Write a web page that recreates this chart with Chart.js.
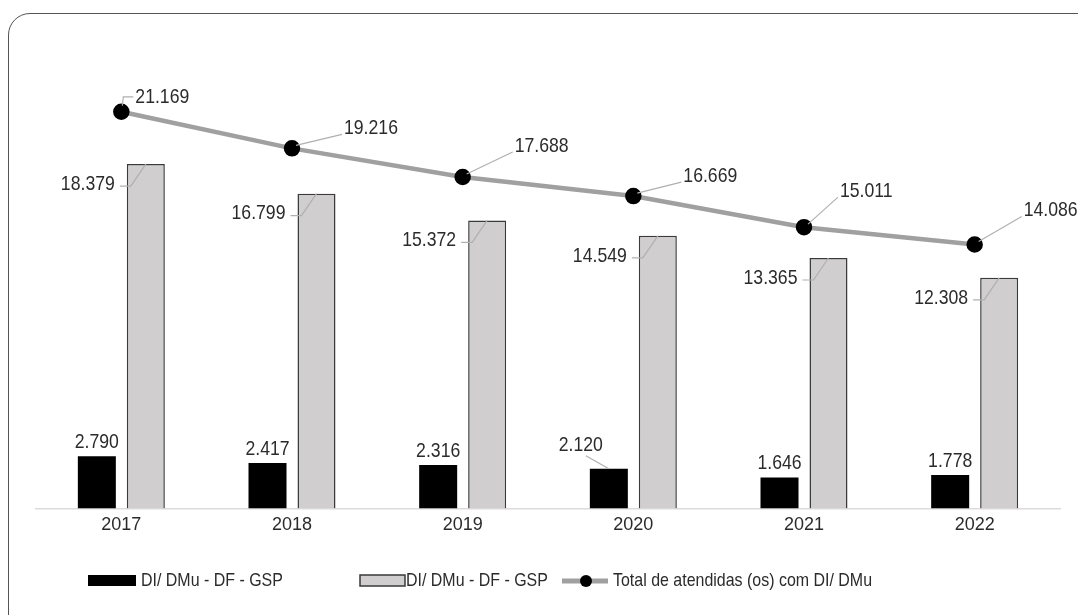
<!DOCTYPE html>
<html>
<head>
<meta charset="utf-8">
<script src="https://cdn.jsdelivr.net/npm/chart.js@4.4.0/dist/chart.umd.min.js"></script>
<style>
    html, body { margin: 0; padding: 0; background: #fff; overflow: hidden; }
    #moldura {
        position: absolute; left: 8px; top: 13px; width: 1100px; height: 640px;
        border: 1.5px solid #555; border-radius: 22px; box-sizing: border-box;
    }
    #grafico { position: absolute; left: 0; top: 0; }
</style>
</head>
<body>
<div id="moldura"></div>
<canvas id="grafico" width="1078" height="615"></canvas>
<script>
const anos = ['2017', '2018', '2019', '2020', '2021', '2022'];
const valoresPretos = [2790, 2417, 2316, 2120, 1646, 1778];
const valoresCinzas = [18379, 16799, 15372, 14549, 13365, 12308];
const valoresTotal = [21169, 19216, 17688, 16669, 15011, 14086];
const nomesSeries = ['DI/ DMu - DF - GSP', 'DI/ DMu - DF - GSP', 'Total de atendidas (os) com DI/ DMu'];

// deslocamento dos rotulos da linha (texto x, y relativo ao ponto)
const deslocLinha = [[14, -15], [52, -20], [52, -31], [50, -20], [36, -36], [49, -34]];

const fonte = "'Liberation Sans', Arial, sans-serif";
const corTexto = '#2b2b2b';
const corGuia = '#b0b0b0';
const estreito = 0.84;

function formatar(v) {
    return v.toLocaleString('pt-BR');
}

// texto comprimido na horizontal (a fonte original e condensada)
function texto(ctx, str, x, y, alinhamento) {
    ctx.save();
    ctx.translate(x, y);
    ctx.scale(estreito, 1);
    ctx.textAlign = alinhamento;
    ctx.textBaseline = 'middle';
    ctx.fillText(str, 0, 0);
    ctx.restore();
}

const rotulos = {
    id: 'rotulos',
    afterDatasetsDraw(chart) {
        const ctx = chart.ctx;
        ctx.save();
        ctx.font = '21px ' + fonte;
        ctx.fillStyle = corTexto;
        ctx.strokeStyle = corGuia;
        ctx.lineWidth = 1.2;

        // barras pretas
        chart.getDatasetMeta(0).data.forEach((bar, i) => {
            if (i === 3) {
                ctx.beginPath();
                ctx.moveTo(bar.x - 23, bar.y - 13);
                ctx.lineTo(bar.x, bar.y);
                ctx.stroke();
                texto(ctx, formatar(valoresPretos[i]), bar.x - 28, bar.y - 23, 'center');
            } else {
                texto(ctx, formatar(valoresPretos[i]), bar.x, bar.y - 14, 'center');
            }
        });

        // barras cinzas
        chart.getDatasetMeta(1).data.forEach((bar, i) => {
            const esq = bar.x - bar.width / 2;
            ctx.beginPath();
            ctx.moveTo(bar.x, bar.y);
            ctx.lineTo(esq + 4, bar.y + 22);
            ctx.lineTo(esq - 7, bar.y + 22);
            ctx.stroke();
            texto(ctx, formatar(valoresCinzas[i]), esq - 12, bar.y + 20, 'right');
        });

        // linha total
        chart.getDatasetMeta(2).data.forEach((pt, i) => {
            const d = deslocLinha[i];
            const tx = pt.x + d[0];
            const ty = pt.y + d[1];
            ctx.beginPath();
            if (i === 0) {
                ctx.moveTo(pt.x + 1, pt.y - 6);
                ctx.lineTo(pt.x + 2, ty);
                ctx.lineTo(tx - 2, ty);
            } else {
                ctx.moveTo(pt.x + 4, pt.y - 3);
                ctx.lineTo(tx - 2, ty + 6);
            }
            ctx.stroke();
            texto(ctx, formatar(valoresTotal[i]), tx, ty, 'left');
        });
        ctx.restore();
    }
};

const legenda = {
    id: 'legenda',
    afterDraw(chart) {
        const ctx = chart.ctx;
        const y = 581;
        ctx.save();
        ctx.font = '19px ' + fonte;

        ctx.fillStyle = '#000';
        ctx.fillRect(88, y - 6, 48, 11);
        ctx.fillStyle = corTexto;
        texto(ctx, nomesSeries[0], 141, y, 'left');

        ctx.fillStyle = '#d0cecf';
        ctx.strokeStyle = '#3a3a3a';
        ctx.lineWidth = 1.5;
        ctx.fillRect(360, y - 6, 45, 11);
        ctx.strokeRect(360, y - 6, 45, 11);
        ctx.fillStyle = corTexto;
        texto(ctx, nomesSeries[1], 406, y, 'left');

        ctx.strokeStyle = '#a0a0a0';
        ctx.lineWidth = 5;
        ctx.beginPath();
        ctx.moveTo(562, y);
        ctx.lineTo(608, y);
        ctx.stroke();
        ctx.fillStyle = '#000';
        ctx.beginPath();
        ctx.arc(586, y, 6, 0, Math.PI * 2);
        ctx.fill();
        ctx.fillStyle = corTexto;
        texto(ctx, nomesSeries[2], 613, y, 'left');
        ctx.restore();
    }
};

new Chart(document.getElementById('grafico'), {
    type: 'bar',
    data: {
        labels: anos,
        datasets: [
            {
                label: nomesSeries[0],
                data: valoresPretos,
                backgroundColor: '#000000',
                borderColor: '#000000',
                borderWidth: 0,
                categoryPercentage: 0.574,
                barPercentage: 0.776,
                order: 1
            },
            {
                label: nomesSeries[1],
                data: valoresCinzas,
                backgroundColor: '#d0cecf',
                borderColor: '#3a3a3a',
                borderWidth: 1.5,
                categoryPercentage: 0.574,
                barPercentage: 0.776,
                order: 1
            },
            {
                type: 'line',
                label: nomesSeries[2],
                data: valoresTotal,
                borderColor: '#a0a0a0',
                borderWidth: 4.5,
                pointBackgroundColor: '#000000',
                pointBorderColor: '#000000',
                pointRadius: 6,
                tension: 0,
                order: 0
            }
        ]
    },
    options: {
        responsive: false,
        animation: false,
        layout: { padding: { left: 36, right: 18, top: 40, bottom: 73 } },
        plugins: {
            legend: { display: false },
            tooltip: { enabled: false }
        },
        scales: {
            x: {
                grid: { display: false, drawTicks: false },
                border: { display: true, color: '#dcdcdc', width: 1.5 },
                ticks: { color: corTexto, font: { family: fonte, size: 18 }, padding: 6 }
            },
            y: {
                display: false,
                min: 0,
                max: 25000
            }
        }
    },
    plugins: [rotulos, legenda]
});
</script>
</body>
</html>
